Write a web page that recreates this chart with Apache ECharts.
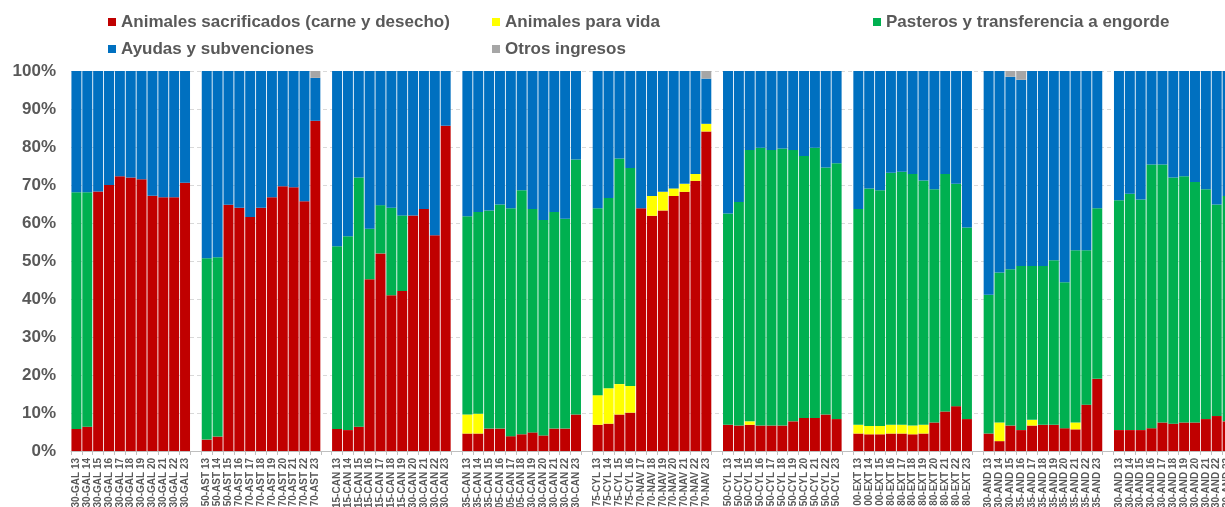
<!DOCTYPE html>
<html>
<head>
<meta charset="utf-8">
<script src="https://cdn.jsdelivr.net/npm/echarts@6/dist/echarts.min.js"></script>
<style>
  html, body { margin: 0; padding: 0; background: #fff; }
  #chart { width: 1225px; height: 507px; }
</style>
</head>
<body>
<div id="chart"></div>
<script>
// one entry per group of bars, a blank slot goes between groups
const groupPrefixes = [
  ['30-GAL', '30-GAL', '30-GAL', '30-GAL', '30-GAL', '30-GAL', '30-GAL', '30-GAL', '30-GAL', '30-GAL', '30-GAL'],
  ['50-AST', '50-AST', '50-AST', '70-AST', '70-AST', '70-AST', '70-AST', '70-AST', '70-AST', '70-AST', '70-AST'],
  ['15-CAN', '15-CAN', '15-CAN', '15-CAN', '15-CAN', '15-CAN', '15-CAN', '30-CAN', '30-CAN', '30-CAN', '30-CAN'],
  ['35-CAN', '35-CAN', '35-CAN', '05-CAN', '05-CAN', '05-CAN', '30-CAN', '30-CAN', '30-CAN', '30-CAN', '30-CAN'],
  ['75-CYL', '75-CYL', '75-CYL', '75-CYL', '70-NAV', '70-NAV', '70-NAV', '70-NAV', '70-NAV', '70-NAV', '70-NAV'],
  ['50-CYL', '50-CYL', '50-CYL', '50-CYL', '50-CYL', '50-CYL', '50-CYL', '50-CYL', '50-CYL', '50-CYL', '50-CYL'],
  ['00-EXT', '00-EXT', '00-EXT', '80-EXT', '80-EXT', '80-EXT', '80-EXT', '80-EXT', '80-EXT', '80-EXT', '80-EXT'],
  ['30-AND', '30-AND', '30-AND', '35-AND', '35-AND', '35-AND', '35-AND', '35-AND', '35-AND', '35-AND', '35-AND'],
  ['30-AND', '30-AND', '30-AND', '30-AND', '30-AND', '30-AND', '30-AND', '30-AND', '30-AND', '30-AND', '30-AND']
];
const years = ['13', '14', '15', '16', '17', '18', '19', '20', '21', '22', '23'];

const seriesNames = [
  'Animales sacrificados (carne y desecho)',
  'Animales para vida',
  'Pasteros y transferencia a engorde',
  'Ayudas y subvenciones',
  'Otros ingresos'
];

// % of income, one row per group
const sacrificados = [
  [5.8, 6.4, 68.3, 70.0, 72.3, 72.0, 71.5, 67.2, 66.8, 66.8, 70.6],
  [3.0, 3.8, 64.8, 64.0, 61.6, 64.0, 66.8, 69.7, 69.4, 65.7, 86.9],
  [5.8, 5.5, 6.4, 45.2, 52.0, 41.0, 42.1, 62.0, 63.7, 56.8, 85.6],
  [4.6, 4.6, 5.9, 5.9, 3.9, 4.4, 4.9, 4.1, 5.9, 5.9, 9.6],
  [6.9, 7.2, 9.6, 10.1, 63.9, 61.9, 63.3, 67.1, 68.2, 71.1, 84.1],
  [6.9, 6.7, 6.9, 6.7, 6.7, 6.7, 7.8, 8.7, 8.7, 9.6, 8.4],
  [4.6, 4.4, 4.4, 4.6, 4.6, 4.4, 4.6, 7.5, 10.4, 11.8, 8.4],
  [4.6, 2.6, 6.7, 5.5, 6.7, 6.9, 6.9, 6.0, 5.7, 12.2, 19.0],
  [5.5, 5.5, 5.5, 6.0, 7.5, 7.2, 7.5, 7.5, 8.4, 9.2, 7.8]
];
const paraVida = [
  [0, 0, 0, 0, 0, 0, 0, 0, 0, 0, 0],
  [0, 0, 0, 0, 0, 0, 0, 0, 0, 0, 0],
  [0, 0, 0, 0, 0, 0, 0, 0, 0, 0, 0],
  [5.0, 5.2, 0, 0, 0, 0, 0, 0, 0, 0, 0],
  [7.8, 9.3, 8.0, 7.0, 0, 5.2, 4.9, 2.0, 2.1, 1.8, 2.0],
  [0, 0, 0.9, 0, 0, 0, 0, 0, 0, 0, 0],
  [2.3, 2.2, 2.2, 2.3, 2.3, 2.3, 2.3, 0, 0, 0, 0],
  [0, 4.9, 0, 0, 1.5, 0, 0, 0, 1.8, 0, 0],
  [0, 0, 0, 0, 0, 0, 0, 0, 0, 0, 0]
];
const pasteros = [
  [62.3, 61.7, 0, 0, 0, 0, 0, 0, 0, 0, 0],
  [47.7, 47.2, 0, 0, 0, 0, 0, 0, 0, 0, 0],
  [48.1, 51.0, 65.6, 13.3, 12.7, 23.0, 19.9, 0, 0, 0, 0],
  [52.2, 53.1, 57.4, 59.0, 60.0, 64.2, 58.8, 56.7, 57.0, 55.2, 67.1],
  [49.2, 50.1, 59.4, 57.4, 0, 0, 0, 0, 0, 0, 0],
  [55.6, 58.8, 71.4, 73.1, 72.5, 72.9, 71.4, 68.9, 71.1, 65.0, 67.3],
  [56.8, 62.5, 62.0, 66.3, 66.6, 66.2, 64.3, 61.4, 62.5, 58.5, 50.4],
  [36.5, 39.5, 41.1, 43.2, 40.5, 41.8, 43.3, 38.4, 45.3, 40.6, 44.9],
  [60.5, 62.2, 60.7, 69.4, 67.9, 64.8, 64.8, 63.3, 60.5, 55.7, 59.3]
];
const ayudas = [
  [31.9, 31.9, 31.7, 30.0, 27.7, 28.0, 28.5, 32.8, 33.2, 33.2, 29.4],
  [49.3, 49.0, 35.2, 36.0, 38.4, 36.0, 33.2, 30.3, 30.6, 34.3, 11.3],
  [46.1, 43.5, 28.0, 41.5, 35.3, 36.0, 38.0, 38.0, 36.3, 43.2, 14.4],
  [38.2, 37.1, 36.7, 35.1, 36.1, 31.4, 36.3, 39.2, 37.1, 38.9, 23.3],
  [36.1, 33.4, 23.0, 25.5, 36.1, 32.9, 31.8, 30.9, 29.7, 27.1, 11.9],
  [37.5, 34.5, 20.8, 20.2, 20.8, 20.4, 20.8, 22.4, 20.2, 25.4, 24.3],
  [36.3, 30.9, 31.4, 26.8, 26.5, 27.1, 28.8, 31.1, 27.1, 29.7, 41.2],
  [58.9, 53.0, 50.7, 49.0, 51.3, 51.3, 49.8, 55.6, 47.2, 47.2, 36.1],
  [34.0, 32.3, 33.8, 24.6, 24.6, 28.0, 27.7, 29.2, 31.1, 35.1, 32.9]
];
const otros = [
  [0, 0, 0, 0, 0, 0, 0, 0, 0, 0, 0],
  [0, 0, 0, 0, 0, 0, 0, 0, 0, 0, 1.8],
  [0, 0, 0, 0, 0, 0, 0, 0, 0, 0, 0],
  [0, 0, 0, 0, 0, 0, 0, 0, 0, 0, 0],
  [0, 0, 0, 0, 0, 0, 0, 0, 0, 0, 2.0],
  [0, 0, 0, 0, 0, 0, 0, 0, 0, 0, 0],
  [0, 0, 0, 0, 0, 0, 0, 0, 0, 0, 0],
  [0, 0, 1.5, 2.3, 0, 0, 0, 0, 0, 0, 0],
  [0, 0, 0, 0, 0, 0, 0, 0, 0, 0, 0]
];

const colors = ['#c00000', '#ffff00', '#00b050', '#0070c0', '#a6a6a6'];
const textGray = '#595959';

// flatten groups, blank category between them
const categories = [];
groupPrefixes.forEach((g, gi) => {
  if (gi > 0) categories.push('');
  g.forEach((p, i) => categories.push(p + ' ' + years[i]));
});
const flatten = (groups) => {
  const out = [];
  groups.forEach((g, gi) => {
    if (gi > 0) out.push(null);
    g.forEach(v => out.push(v));
  });
  return out;
};

const seriesData = [sacrificados, paraVida, pasteros, ayudas, otros];

const chart = echarts.init(document.getElementById('chart'));

const legendText = {
  fontSize: 17,
  fontWeight: 'bold',
  color: textGray,
  fontFamily: 'Liberation Sans, Arial, sans-serif',
  lineHeight: 18
};
const legendBase = {
  orient: 'vertical',
  top: 8,
  itemGap: 9,
  itemWidth: 8,
  itemHeight: 8,
  icon: 'rect',
  textStyle: legendText
};

chart.setOption({
  animation: false,
  color: colors,
  legend: [
    Object.assign({ left: 103, data: [seriesNames[0], seriesNames[3]] }, legendBase),
    Object.assign({ left: 487, data: [seriesNames[1], seriesNames[4]] }, legendBase),
    Object.assign({ left: 868, data: [seriesNames[2]] }, legendBase)
  ],
  // plot runs past the right edge, last bar is cut like in the source
  grid: {
    left: 71,
    top: 71,
    width: 1162,
    height: 380,
    outerBoundsMode: 'none'
  },
  xAxis: {
    type: 'category',
    data: categories,
    axisLine: { lineStyle: { color: '#bfbfbf' } },
    axisTick: { show: true, length: 4, interval: 0, lineStyle: { color: '#bfbfbf' } },
    axisLabel: {
      rotate: 90,
      interval: 0,
      fontSize: 10,
      fontWeight: 'bold',
      color: textGray,
      fontFamily: 'Liberation Sans, Arial, sans-serif',
      margin: 7
    }
  },
  yAxis: {
    type: 'value',
    min: 0,
    max: 100,
    interval: 10,
    axisLine: { show: false },
    axisTick: { show: false },
    axisLabel: {
      formatter: '{value}%',
      fontSize: 17,
      fontWeight: 'bold',
      color: textGray,
      fontFamily: 'Liberation Sans, Arial, sans-serif',
      margin: 15
    },
    splitLine: { lineStyle: { color: '#d9d9d9', type: [4, 3] } }
  },
  series: seriesNames.map((name, i) => ({
    name: name,
    type: 'bar',
    stack: 'total',
    barCategoryGap: '8%',
    data: flatten(seriesData[i]),
    itemStyle: { color: colors[i] }
  }))
});
</script>
</body>
</html>
